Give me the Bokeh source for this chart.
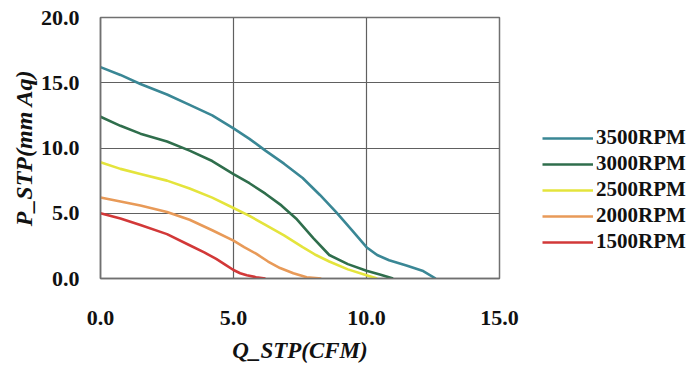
from bokeh.plotting import figure
from bokeh.models import Legend, LegendItem, FixedTicker
from bokeh.embed import file_html
from bokeh.resources import INLINE

# Data
q_3500 = [0.0, 0.75, 1.5, 2.5, 3.35, 4.2, 5.0, 5.6, 6.2, 6.9, 7.6, 8.25, 8.85, 9.45, 10.0, 10.4, 10.85, 11.5, 12.1, 12.6]
p_3500 = [16.2, 15.6, 14.9, 14.1, 13.3, 12.5, 11.5, 10.7, 9.8, 8.8, 7.7, 6.4, 5.1, 3.7, 2.4, 1.8, 1.4, 1.0, 0.6, 0.0]

q_3000 = [0.0, 0.75, 1.5, 2.5, 3.35, 4.2, 5.0, 5.6, 6.2, 6.8, 7.35, 8.0, 8.6, 9.3, 10.0, 10.5, 11.0]
p_3000 = [12.4, 11.7, 11.1, 10.5, 9.8, 9.0, 8.0, 7.3, 6.5, 5.6, 4.6, 3.1, 1.8, 1.1, 0.6, 0.3, 0.0]

q_2500 = [0.0, 0.75, 1.5, 2.5, 3.35, 4.2, 5.0, 5.6, 6.2, 6.9, 7.6, 8.1, 8.6, 9.3, 10.0, 10.4]
p_2500 = [8.9, 8.4, 8.0, 7.5, 6.9, 6.2, 5.4, 4.8, 4.1, 3.3, 2.4, 1.8, 1.3, 0.7, 0.25, 0.0]

q_2000 = [0.0, 0.75, 1.5, 2.5, 3.35, 4.2, 5.0, 5.4, 5.85, 6.3, 6.75, 7.25, 7.75, 8.3]
p_2000 = [6.2, 5.9, 5.6, 5.1, 4.5, 3.7, 2.9, 2.4, 1.9, 1.3, 0.8, 0.4, 0.1, 0.0]

q_1500 = [0.0, 0.75, 1.5, 2.5, 3.35, 3.9, 4.35, 4.7, 5.0, 5.25, 5.5, 5.85, 6.2]
p_1500 = [5.0, 4.6, 4.1, 3.4, 2.55, 2.0, 1.5, 1.05, 0.65, 0.4, 0.25, 0.1, 0.0]

series_names = ["3500RPM", "3000RPM", "2500RPM", "2000RPM", "1500RPM"]
series_colors = ["#3a8795", "#2f6e4c", "#e4e43c", "#e89a58", "#d23838"]
series_q = [q_3500, q_3000, q_2500, q_2000, q_1500]
series_p = [p_3500, p_3000, p_2500, p_2000, p_1500]

x_ticks = [0, 5, 10, 15]
y_ticks = [0, 5, 10, 15, 20]
x_labels = ["0.0", "5.0", "10.0", "15.0"]
y_labels = ["0.0", "5.0", "10.0", "15.0", "20.0"]

FONT = "Liberation Serif"

p = figure(
    frame_width=399, frame_height=261,
    min_border_left=100, min_border_right=175, min_border_top=17, min_border_bottom=80,
    x_range=(0, 15), y_range=(0, 20),
    output_backend="svg", toolbar_location=None,
)
p.background_fill_color = "white"
p.border_fill_color = "white"
p.outline_line_color = "#707070"
p.outline_line_width = 1.5

items = []
for name, color, q, pp in zip(series_names, series_colors, series_q, series_p):
    r = p.line(q, pp, line_color=color, line_width=2.6, line_join="round")
    items.append(LegendItem(label=name, renderers=[r]))

for ax, ticks, labels in ((p.xaxis[0], x_ticks, x_labels), (p.yaxis[0], y_ticks, y_labels)):
    ax.ticker = FixedTicker(ticks=ticks)
    ax.major_label_overrides = {t: l for t, l in zip(ticks, labels)}
    ax.major_tick_out = 0
    ax.major_tick_in = 0
    ax.minor_tick_out = 0
    ax.minor_tick_in = 0
    ax.axis_line_color = "#707070"
    ax.axis_line_width = 1.5
    ax.major_label_text_font = FONT
    ax.major_label_text_font_style = "bold"
    ax.major_label_text_font_size = "22px"
    ax.major_label_text_color = "#111111"
    ax.axis_label_text_font = FONT
    ax.axis_label_text_font_style = "bold italic"
    ax.axis_label_text_color = "#111111"

p.xaxis.axis_label = "Q_STP(CFM)"
p.yaxis.axis_label = "P_STP(mm Aq)"
p.xaxis.axis_label_text_font_size = "23px"
p.yaxis.axis_label_text_font_size = "24px"
p.xaxis.major_label_standoff = 32
p.xaxis.axis_label_standoff = 10
p.yaxis.major_label_standoff = 21
p.yaxis.axis_label_standoff = 1

p.xgrid.ticker = FixedTicker(ticks=x_ticks)
p.ygrid.ticker = FixedTicker(ticks=y_ticks)
p.grid.grid_line_color = "#606060"
p.grid.grid_line_width = 1.2

legend = Legend(items=items, location=(43, 24), padding=0, margin=0,
                glyph_width=51, glyph_height=20, label_height=20, spacing=1, label_standoff=3,
                label_text_font=FONT, label_text_font_style="bold",
                label_text_font_size="21px", label_text_color="#111111",
                border_line_color=None, background_fill_alpha=0)
p.add_layout(legend, "right")

open("out.html", "w").write(file_html(p, INLINE))
